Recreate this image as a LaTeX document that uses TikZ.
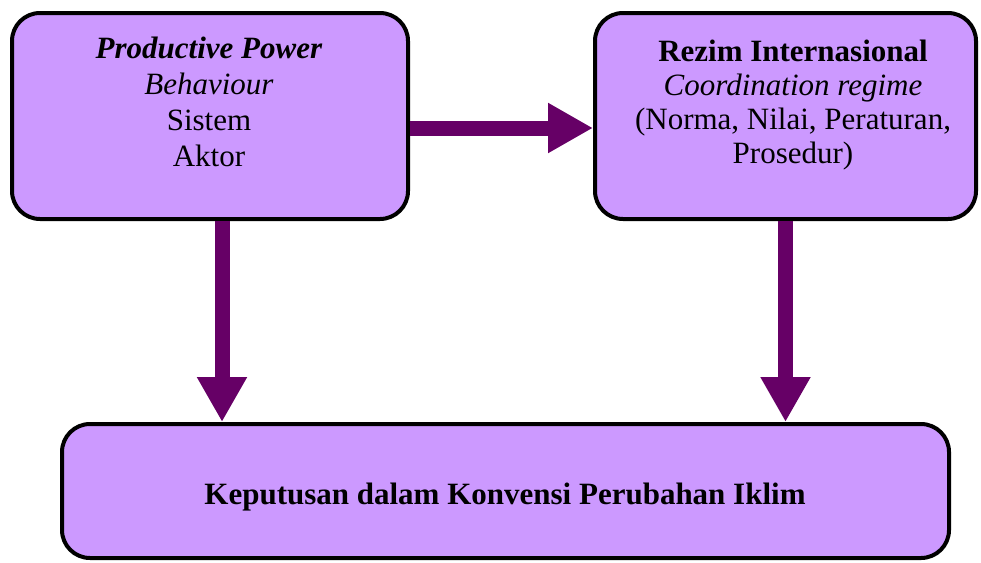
\documentclass[tikz,border=0pt]{standalone}
\usepackage{fontspec}
\setmainfont{Liberation Serif}
\usetikzlibrary{arrows.meta}
\definecolor{boxfill}{HTML}{CC99FF}
\definecolor{arrowcol}{HTML}{660066}
\tikzset{
  boxstyle/.style={draw=black, line width=4pt, fill=boxfill, rounded corners=28pt, rectangle, inner sep=0pt},
  txt/.style={inner sep=0pt, align=center, font=\fontsize{31}{36}\selectfont},
  arr/.style={draw=arrowcol, line width=15pt, -{Triangle[length=45pt,width=47pt]}, arrowcol}
}
\begin{document}
\begin{tikzpicture}[x=1pt,y=-1pt]
\useasboundingbox[fill=white] (0,0) rectangle (981,562);
\node[boxstyle, minimum width=396pt, minimum height=206pt] (box1) at (210,116) {};
\node[boxstyle, minimum width=381pt, minimum height=206pt] (box2) at (785.5,116) {};
\node[boxstyle, minimum width=887pt, minimum height=134pt] (box3) at (505.5,491) {};
\node[txt, anchor=north] (t1) at (209,36.5) {\textbf{\textit{Productive Power}}\\ \textit{Behaviour}\\ Sistem\\ Aktor};
\node[txt, anchor=north, font=\fontsize{31}{34}\selectfont] (t2) at (793,40) {\textbf{Rezim Internasional}\\ \textit{Coordination regime}\\ (Norma, Nilai, Peraturan,\\ Prosedur)};
\node[txt, anchor=base] (t3) at (505,504) {\textbf{Keputusan dalam Konvensi Perubahan Iklim}};
\draw[arr] ([yshift=-12pt]box1.east) -- ([yshift=-12pt]box2.west);
\draw[arr] ([xshift=12pt]box1.south) -- ([xshift=12pt]box1.south |- box3.north);
\draw[arr] (box2.south) -- (box2.south |- box3.north);
\end{tikzpicture}
\end{document}
